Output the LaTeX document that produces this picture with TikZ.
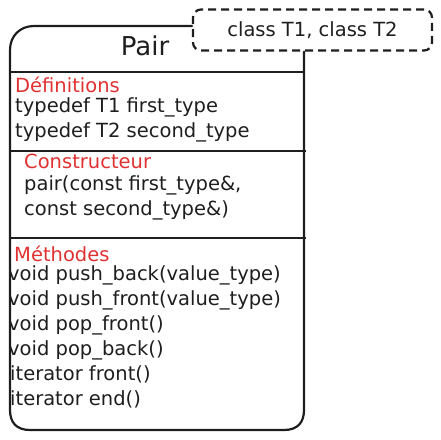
\documentclass[tikz,border=0pt]{standalone}
\usepackage{fontspec}
\setmainfont{DejaVu Sans}
\definecolor{trait}{HTML}{1E1E1E}
\definecolor{titre}{HTML}{E03131}
\begin{document}
\begin{tikzpicture}[
  x=1pt, y=-1pt,
  outline/.style = {draw=trait, line width=2.2pt, line join=round, line cap=round},
  sep/.style     = {draw=trait, line width=2.6pt},
  note/.style    = {draw=trait, line width=2.2pt, dash pattern=on 8pt off 5pt,
                    rounded corners=8pt, minimum width=239pt, minimum height=41pt,
                    font=\fontsize{19.5}{22}\selectfont, text=trait},
  section/.style = {anchor=base west, inner sep=0pt, text=titre,
                    font=\fontsize{19.5}{22}\selectfont},
  member/.style  = {anchor=base west, inner sep=0pt, text=trait,
                    font=\fontsize{19.5}{22}\selectfont}
]
  \useasboundingbox (0,0) rectangle (441,439);

  % Titre et parametres du modele
  \node[anchor=base, inner sep=0pt, text=trait,
        font=\fontsize{26}{30}\selectfont] (titre) at (145,55) {Pair};
  \node[note] (params) at (312.5,30) {class T1, class T2};

  % Definitions
  \node[section] (defs) at (15,92)  {Définitions};
  \node[member]  (def1) at (15,112) {typedef T1 first\_type};
  \node[member]  (def2) at (15,137) {typedef T2 second\_type};

  % Constructeur
  \node[section] (ctor)  at (24,168) {Constructeur};
  \node[member]  (ctor1) at (24,190) {pair(const first\_type\&,};
  \node[member]  (ctor2) at (24,215) {const second\_type\&)};

  % Methodes (coupees par le bord gauche)
  \node[section] (meth) at (14,261) {Méthodes};
  \begin{scope}
    \clip (11,240) rectangle (304,429);
    \node[member] (m1) at (8,280) {void push\_back(value\_type)};
    \node[member] (m2) at (8,305) {void push\_front(value\_type)};
    \node[member] (m3) at (8,330) {void pop\_front()};
    \node[member] (m4) at (8,355) {void pop\_back()};
    \node[member] (m5) at (10,380) {iterator front()};
    \node[member] (m6) at (10,405) {iterator end()};
  \end{scope}

  % Separateurs
  \draw[sep] (10,72)  -- (304,72);
  \draw[sep] (10,151) -- (306,151);
  \draw[sep] (10,238) -- (306,238);

  % Contour de la classe
  \draw[outline] (params.west |- 0,26) -- (34,26)
        .. controls (20,26) and (10,36) .. (10,50)
        -- (10,410) .. controls (10,422) and (16,430) .. (30,430)
        -- (284,430) .. controls (298,430) and (304,422) .. (304,410)
        -- (params.south -| 304,0);
\end{tikzpicture}
\end{document}
